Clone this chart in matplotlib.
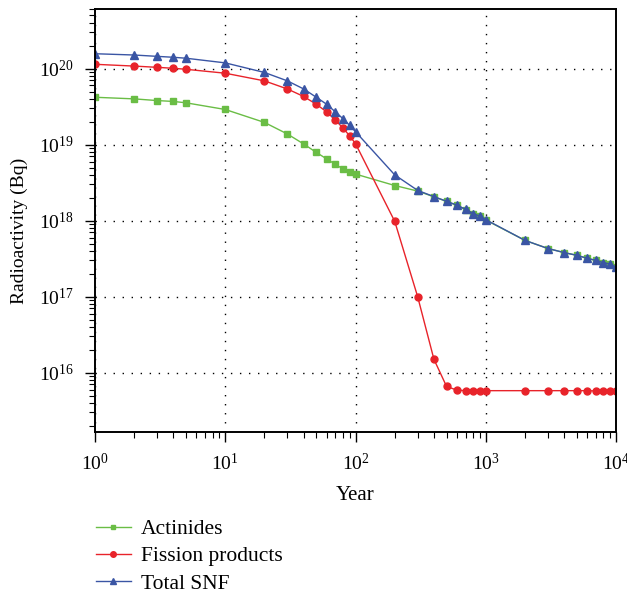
import numpy as np
import matplotlib
matplotlib.use("Agg")
import matplotlib.pyplot as plt
from matplotlib.ticker import LogLocator, NullFormatter

# ===== dados =====
anos = [1, 2, 3, 4, 5, 10, 20, 30, 40, 50, 60, 70, 80, 90, 100,
        200, 300, 400, 500, 600, 700, 800, 900, 1000,
        2000, 3000, 4000, 5000, 6000, 7000, 8000, 9000, 10000]

actinides = [4.2e19, 4.0e19, 3.8e19, 3.7e19, 3.55e19, 2.9e19, 1.96e19, 1.38e19, 1.02e19,
             7.9e18, 6.5e18, 5.5e18, 4.8e18, 4.4e18, 4.1e18,
             2.9e18, 2.45e18, 2.06e18, 1.79e18, 1.59e18, 1.40e18, 1.23e18, 1.14e18, 1.02e18,
             5.5e17, 4.3e17, 3.8e17, 3.5e17, 3.2e17, 3.0e17, 2.8e17, 2.7e17, 2.45e17]

fissao = [1.14e20, 1.08e20, 1.04e20, 1.01e20, 9.8e19, 8.7e19, 6.9e19, 5.4e19, 4.3e19,
          3.4e19, 2.7e19, 2.1e19, 1.66e19, 1.31e19, 1.03e19,
          9.8e17, 1.0e17, 1.5e16, 6.6e15, 5.9e15, 5.8e15, 5.8e15, 5.8e15, 5.8e15,
          5.8e15, 5.8e15, 5.8e15, 5.8e15, 5.8e15, 5.75e15, 5.75e15, 5.75e15, 5.75e15]

total = [1.57e20, 1.51e20, 1.45e20, 1.41e20, 1.37e20, 1.19e20, 8.9e19, 6.9e19, 5.4e19,
         4.2e19, 3.4e19, 2.7e19, 2.2e19, 1.8e19, 1.48e19,
         4.0e18, 2.5e18, 2.07e18, 1.8e18, 1.6e18, 1.41e18, 1.24e18, 1.15e18, 1.03e18,
         5.5e17, 4.3e17, 3.8e17, 3.5e17, 3.2e17, 3.0e17, 2.8e17, 2.7e17, 2.45e17]

rotulos = ["Actinides", "Fission products", "Total SNF"]
# ==================================

plt.rcParams["font.family"] = ["Liberation Serif", "DejaVu Serif"]
plt.rcParams["mathtext.fontset"] = "custom"
plt.rcParams["mathtext.rm"] = "Liberation Serif"
plt.rcParams["mathtext.it"] = "Liberation Serif:italic"

fig = plt.figure(figsize=(6.27, 5.95), dpi=100)
ax = fig.add_axes([0.1515, 0.274, 0.831, 0.711])

ax.plot(anos, actinides, color="#6abd45", marker="s", ms=4.2, lw=1.0, label=rotulos[0])
ax.plot(anos, fissao, color="#e8232a", marker="o", ms=5.0, lw=1.0, label=rotulos[1])
ax.plot(anos, total, color="#3a55a4", marker="^", ms=5.8, lw=1.0, label=rotulos[2])

ax.set_xscale("log")
ax.set_yscale("log")
ax.set_xlim(1, 1e4)
ax.set_ylim(1.66e15, 6.1e20)

ax.set_xticks([1, 10, 100, 1000, 10000])
ax.set_xticklabels([r"$10^{%d}$" % i for i in range(5)])
ax.set_yticks([1e16, 1e17, 1e18, 1e19, 1e20])
ax.set_yticklabels([r"$10^{%d}$" % i for i in range(16, 21)])
ax.xaxis.set_minor_locator(LogLocator(base=10, subs=np.arange(2, 10)))
ax.yaxis.set_minor_locator(LogLocator(base=10, subs=np.arange(2, 10)))
ax.xaxis.set_minor_formatter(NullFormatter())
ax.yaxis.set_minor_formatter(NullFormatter())

ax.tick_params(which="both", direction="out", top=False, right=False, labelsize=14)
ax.tick_params(which="major", length=7, width=1.0)
ax.tick_params(which="minor", length=4, width=0.8)
ax.tick_params(axis="x", which="major", pad=8)
ax.tick_params(axis="y", which="major", pad=8.5)
for s in ax.spines.values():
    s.set_linewidth(1.4)

ax.grid(True, which="major", color="black", linestyle=(0, (1, 5.5)), linewidth=1.0)

ax.set_xlabel("Year", fontsize=15)
ax.xaxis.label.set_va("center")
ax.xaxis.set_label_coords(0.5, -0.151)
ax.set_ylabel("Radioactivity (Bq)", fontsize=14)
ax.yaxis.set_label_coords(-0.129, 0.475)

fig.legend(loc="upper left", bbox_to_anchor=(0.122, 0.160), bbox_transform=fig.transFigure,
           frameon=False, fontsize=15.5, handlelength=1.63, handletextpad=0.47,
           labelspacing=0.33, markerscale=0.8)

fig.savefig("out.png", dpi=100)
